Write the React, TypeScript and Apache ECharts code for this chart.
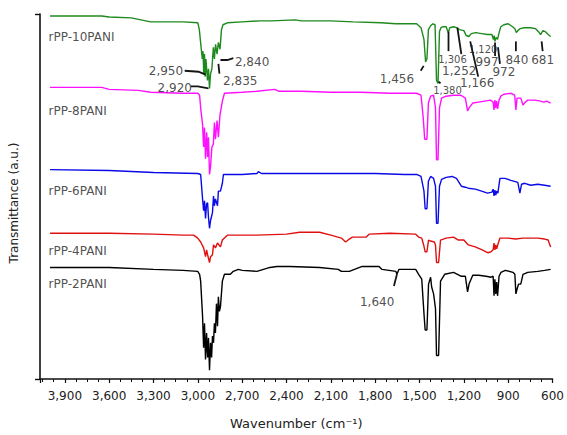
import React, { useEffect, useRef } from "react";
import * as echarts from "echarts";

// Wavenumber (cm-1), transmittance (a.u., stacked offsets)
const rPP10PANI: [number, number][] = [
  [4000, 371], [3650, 371], [3600, 370], [3450, 369], [3320, 365], [3100, 365], [3000, 364],
  [2990, 357], [2980, 342], [2970, 327], [2965, 335], [2960, 312], [2955, 332], [2950, 309],
  [2945, 327], [2935, 305], [2928, 317], [2921, 297], [2914, 312], [2905, 317], [2895, 339],
  [2888, 327], [2880, 342], [2870, 332], [2861, 344], [2850, 337], [2840, 357], [2830, 362],
  [2800, 364], [2700, 365], [2580, 366], [2500, 366], [2340, 367], [2300, 366], [2100, 366],
  [1950, 365], [1760, 364], [1660, 363], [1520, 363], [1490, 359], [1470, 347], [1459, 324],
  [1450, 327], [1440, 357], [1425, 361], [1410, 363], [1395, 362], [1385, 305], [1375, 302],
  [1365, 355], [1355, 359], [1340, 360], [1320, 360], [1306, 354], [1295, 359], [1270, 360],
  [1250, 359], [1230, 357], [1200, 356], [1185, 351], [1166, 350], [1150, 353], [1120, 354],
  [1080, 353], [1040, 352], [1010, 352], [1000, 347], [995, 351], [990, 345], [982, 349],
  [972, 347], [960, 355], [950, 360], [930, 362], [900, 363], [870, 360], [855, 358],
  [845, 354], [835, 356], [820, 358], [790, 359], [750, 359], [715, 358], [690, 354],
  [681, 352], [665, 356], [650, 355], [630, 352], [613, 350],
];

const rPP8PANI: [number, number][] = [
  [4000, 298], [3650, 298], [3600, 296], [3400, 295], [3320, 293], [3100, 292], [3000, 292],
  [2988, 290], [2981, 277], [2968, 260], [2961, 237], [2955, 257], [2948, 225], [2940, 252],
  [2934, 227], [2928, 247], [2921, 209], [2914, 217], [2905, 237], [2895, 240], [2888, 262],
  [2881, 245], [2870, 264], [2861, 247], [2850, 270], [2834, 284], [2820, 292], [2700, 293],
  [2600, 294], [2480, 296], [2450, 294], [2300, 294], [2100, 293], [1900, 293], [1700, 292],
  [1520, 292], [1490, 290], [1475, 267], [1465, 245], [1450, 245], [1440, 282], [1425, 289],
  [1405, 290], [1392, 277], [1385, 224], [1375, 224], [1365, 277], [1351, 287], [1320, 289],
  [1270, 290], [1220, 290], [1190, 287], [1175, 274], [1165, 277], [1140, 282], [1100, 283],
  [1060, 284], [1020, 285], [1002, 283], [996, 275], [990, 285], [984, 277], [978, 284],
  [972, 276], [962, 285], [950, 289], [930, 291], [880, 292], [856, 290], [848, 275],
  [840, 287], [815, 287], [800, 280], [790, 282], [768, 285], [720, 285], [680, 284],
  [660, 283], [640, 284], [613, 282],
];

const rPP6PANI: [number, number][] = [
  [4000, 214], [3600, 213], [3300, 211], [3000, 210], [2981, 209], [2968, 184], [2961, 172],
  [2955, 182], [2948, 164], [2941, 179], [2934, 180], [2928, 165], [2921, 154], [2914, 162],
  [2901, 170], [2894, 187], [2888, 177], [2881, 184], [2867, 177], [2861, 192], [2847, 192],
  [2834, 200], [2827, 209], [2700, 209], [2600, 210], [2590, 212], [2570, 210], [2400, 210],
  [2200, 210], [2000, 210], [1800, 210], [1600, 209], [1520, 209], [1490, 207], [1470, 192],
  [1462, 174], [1450, 174], [1440, 202], [1425, 207], [1405, 205], [1392, 197], [1385, 159],
  [1375, 159], [1365, 197], [1351, 204], [1320, 206], [1280, 207], [1250, 205], [1217, 197],
  [1190, 196], [1170, 195], [1123, 194], [1080, 192], [1040, 190], [1010, 191], [1002, 194],
  [996, 187], [990, 193], [984, 188], [978, 192], [970, 190], [956, 205], [922, 205],
  [882, 203], [835, 201], [821, 190], [810, 199], [788, 200], [748, 198], [700, 199],
  [654, 198], [613, 197],
];

const rPP4PANI: [number, number][] = [
  [4000, 149], [3600, 149], [3300, 148], [3100, 147], [3028, 147], [3001, 144], [2981, 140],
  [2961, 134], [2948, 125], [2941, 132], [2934, 127], [2921, 119], [2914, 125], [2901, 127],
  [2894, 137], [2881, 134], [2867, 139], [2847, 135], [2834, 142], [2800, 147], [2600, 147],
  [2400, 148], [2311, 150], [2176, 150], [2100, 147], [2029, 144], [2000, 140], [1975, 143],
  [1955, 145], [1861, 145], [1841, 148], [1700, 149], [1526, 148], [1506, 145], [1485, 144],
  [1472, 137], [1462, 130], [1450, 130], [1439, 142], [1425, 141], [1400, 140], [1392, 137],
  [1385, 119], [1371, 119], [1358, 142], [1320, 144], [1270, 145], [1237, 142], [1200, 142],
  [1170, 137], [1123, 135], [1076, 132], [1036, 129], [1016, 130], [1002, 132], [996, 139],
  [990, 132], [984, 137], [978, 133], [969, 138], [956, 144], [900, 144], [850, 143],
  [800, 144], [700, 144], [654, 143], [630, 142], [613, 135],
];

const rPP2PANI: [number, number][] = [
  [4000, 114], [3600, 114], [3300, 112], [3100, 111], [3001, 110], [2988, 107], [2981, 100],
  [2968, 64], [2961, 32], [2955, 57], [2948, 20], [2941, 47], [2934, 22], [2928, 42],
  [2921, 9], [2914, 37], [2907, 22], [2901, 44], [2894, 37], [2888, 57], [2881, 47],
  [2874, 77], [2867, 54], [2861, 84], [2854, 69], [2847, 74], [2834, 100], [2820, 107],
  [2780, 107], [2760, 110], [2726, 112], [2700, 111], [2600, 110], [2512, 114], [2465, 115],
  [2378, 115], [2176, 114], [2050, 112], [2029, 110], [1975, 110], [1888, 115], [1774, 115],
  [1754, 112], [1660, 110], [1653, 107], [1640, 112], [1600, 112], [1526, 112], [1506, 107],
  [1485, 102], [1470, 67], [1462, 50], [1450, 50], [1439, 97], [1425, 104], [1418, 94],
  [1405, 87], [1392, 72], [1385, 24], [1371, 24], [1358, 100], [1330, 107], [1270, 109],
  [1217, 105], [1190, 105], [1175, 89], [1165, 97], [1140, 106], [1100, 106], [1050, 105],
  [1016, 104], [1002, 105], [996, 85], [990, 102], [984, 87], [978, 99], [972, 85],
  [962, 105], [949, 109], [920, 111], [868, 109], [855, 107], [848, 87], [840, 92],
  [830, 97], [815, 97], [800, 107], [768, 109], [700, 110], [654, 111], [613, 112],
];

const seriesNames = ["rPP-10PANI", "rPP-8PANI", "rPP-6PANI", "rPP-4PANI", "rPP-2PANI"];
const seriesColors = ["#1e8a1e", "#ff10ff", "#0a0ae6", "#e01010", "#000000"];
const seriesData = [rPP10PANI, rPP8PANI, rPP6PANI, rPP4PANI, rPP2PANI];
// where each series name is written [wavenumber, transmittance]
const nameAnchors: [number, number][] = [[4010, 350], [4010, 274], [4010, 192], [4010, 131], [4010, 97]];

// peak annotations: wavenumber, transmittance, text, font size
const peakLabels: [number, number, string, number][] = [
  [3216, 315, "2,950", 12],
  [3156, 297, "2,920", 12],
  [2633, 324, "2,840", 12],
  [2713, 305, "2,835", 12],
  [1653, 307, "1,456", 12],
  [1311, 295, "1,380", 10],
  [1277, 327, "1,306", 10],
  [1231, 315, "1,252", 12],
  [1110, 302, "1,166", 12],
  [1070, 337, "1,120", 10],
  [1043, 324, "997", 12],
  [929, 314, "972", 12],
  [841, 326, "840", 12],
  [667, 326, "681", 12],
  [1787, 79, "1,640", 12],
];

const leaderLines: [number, number][][] = [
  [[3089, 315], [2995, 314], [2948, 311]],
  [[3048, 299], [3001, 299], [2928, 297]],
  [[2847, 326], [2800, 326], [2760, 328]],
  [[2861, 322], [2854, 312]],
  [[1492, 315], [1472, 320]],
  [[1371, 304], [1358, 302]],
  [[1304, 355], [1304, 335]],
  [[1244, 359], [1217, 332]],
  [[1157, 345], [1103, 309]],
  [[989, 344], [989, 330]],
  [[969, 339], [956, 322]],
  [[848, 345], [848, 335]],
  [[674, 345], [667, 335]],
  [[1653, 107], [1673, 95]],
];

const X_MIN = 600;
const X_MAX = 4068;
const X_STEP = 300;
const Y_MIN = 0;
const Y_MAX = 373;

const FONT = '"DejaVu Sans", Verdana, sans-serif';

export default function App() {
  const ref = useRef<HTMLDivElement>(null);

  useEffect(() => {
    document.body.style.margin = "0";
    if (!ref.current) return;
    const chart = echarts.init(ref.current, null, { renderer: "svg" });

    const lineSeries = seriesData.map((d, i) => ({
      type: "line",
      name: seriesNames[i],
      data: d,
      showSymbol: false,
      symbol: "none",
      lineStyle: { color: seriesColors[i], width: 1.4 },
      z: 3,
    }));

    chart.setOption({
      animation: false,
      backgroundColor: "#ffffff",
      textStyle: { fontFamily: FONT },
      grid: { left: 38, right: 12, top: 14, bottom: 48, containLabel: false },
      xAxis: {
        type: "value",
        inverse: true,
        min: X_MIN,
        max: X_MAX,
        interval: X_STEP,
        name: "Wavenumber (cm\u207B\u00B9)",
        nameLocation: "middle",
        nameGap: 38,
        nameTextStyle: { fontSize: 13, color: "#222", fontFamily: FONT },
        axisLine: { lineStyle: { color: "#111", width: 1.6 } },
        axisTick: { show: true, length: 4, lineStyle: { color: "#111", width: 1.2 } },
        minorTick: { show: true, splitNumber: 4, length: 3, lineStyle: { color: "#111", width: 1 } },
        splitLine: { show: false },
        minorSplitLine: { show: false },
        axisLabel: {
          fontSize: 12,
          color: "#222",
          margin: 11,
          fontFamily: FONT,
          formatter: (v: number) =>
            v % X_STEP === 0 ? v.toLocaleString("en-US") : "",
        },
      },
      yAxis: {
        type: "value",
        min: Y_MIN,
        max: Y_MAX,
        interval: Y_MAX,
        name: "Transmittance (a.u.)",
        nameLocation: "middle",
        nameGap: 20,
        nameTextStyle: { fontSize: 12, color: "#222", fontFamily: FONT, padding: [0, 13, 0, 0] },
        axisLine: { show: true, lineStyle: { color: "#111", width: 1.6 } },
        axisTick: { show: true, length: 5, lineStyle: { color: "#111", width: 1.4 } },
        axisLabel: { show: false },
        splitLine: { show: false },
      },
      series: [
        ...lineSeries,
        {
          type: "lines",
          coordinateSystem: "cartesian2d",
          polyline: true,
          silent: true,
          data: leaderLines.map((c) => ({ coords: c })),
          lineStyle: { color: "#151515", width: 1.8, opacity: 1 },
          z: 4,
        },
        {
          type: "scatter",
          symbolSize: 0,
          silent: true,
          data: peakLabels.map((p) => ({
            value: [p[0], p[1]],
            label: { fontSize: p[3] },
          })),
          label: {
            show: true,
            position: [0, 0],
            align: "center",
            verticalAlign: "middle",
            color: "#222",
            fontFamily: FONT,
            formatter: (p: any) => peakLabels[p.dataIndex][2],
          },
          z: 5,
        },
        {
          type: "scatter",
          symbolSize: 0,
          silent: true,
          data: nameAnchors.map((a) => a),
          label: {
            show: true,
            position: [0, 0],
            align: "left",
            verticalAlign: "middle",
            fontSize: 12,
            color: "#222",
            fontFamily: FONT,
            formatter: (p: any) => seriesNames[p.dataIndex],
          },
          z: 5,
        },
      ],
    });

    return () => chart.dispose();
  }, []);

  return <div ref={ref} style={{ width: 567, height: 435 }} />;
}
